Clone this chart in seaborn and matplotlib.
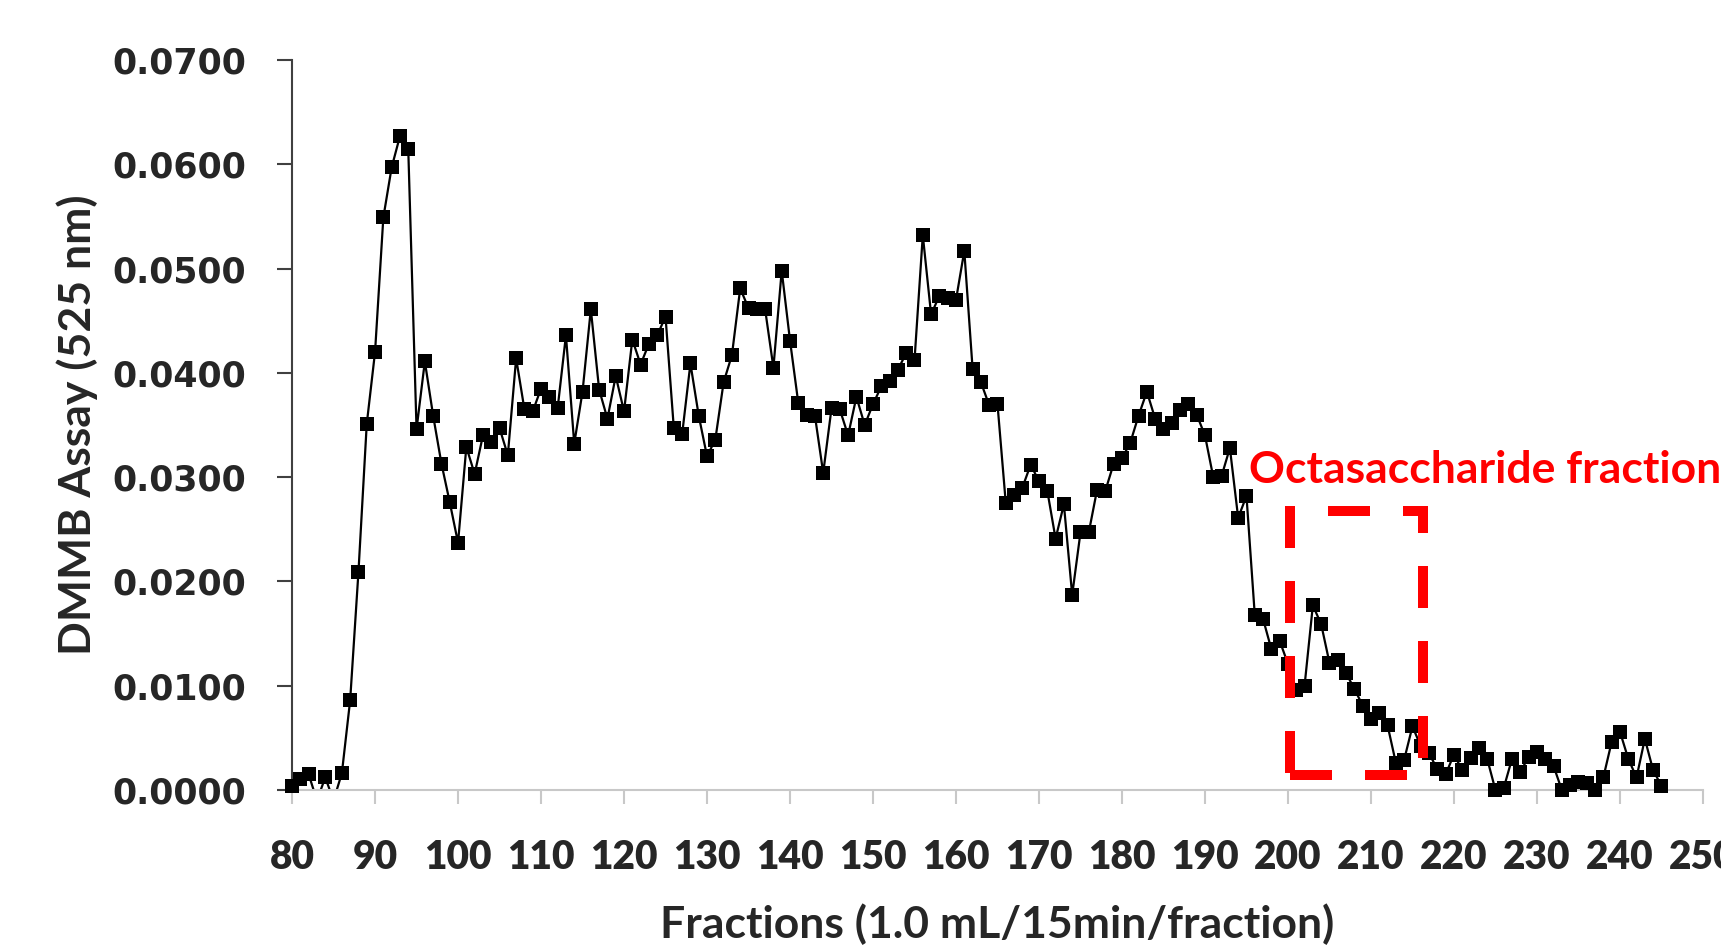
import numpy as np
import pandas as pd
import matplotlib
matplotlib.use("Agg")
import matplotlib.pyplot as plt
import seaborn as sns
from matplotlib.patches import Rectangle

# ---- data ----
fractions = list(range(80, 246))
dmmb = [
    0.0004, 0.0011, 0.0015, -0.0010, 0.0012, -0.0010, 0.0016, 0.0086, 0.0209, 0.0351,  # 80-89
    0.0420, 0.0549, 0.0597, 0.0627, 0.0615, 0.0346, 0.0411, 0.0359, 0.0313, 0.0276,    # 90-99
    0.0237, 0.0329, 0.0303, 0.0340, 0.0334, 0.0347, 0.0321, 0.0414, 0.0365, 0.0363,    # 100-109
    0.0385, 0.0377, 0.0366, 0.0436, 0.0332, 0.0382, 0.0461, 0.0384, 0.0356, 0.0397,    # 110-119
    0.0363, 0.0432, 0.0408, 0.0428, 0.0436, 0.0454, 0.0347, 0.0341, 0.0409, 0.0359,    # 120-129
    0.0320, 0.0336, 0.0391, 0.0417, 0.0481, 0.0462, 0.0461, 0.0461, 0.0405, 0.0498,    # 130-139
    0.0431, 0.0371, 0.0360, 0.0359, 0.0304, 0.0366, 0.0365, 0.0340, 0.0377, 0.0350,    # 140-149
    0.0370, 0.0387, 0.0392, 0.0403, 0.0419, 0.0412, 0.0532, 0.0456, 0.0474, 0.0472,    # 150-159
    0.0470, 0.0517, 0.0404, 0.0391, 0.0369, 0.0370, 0.0275, 0.0283, 0.0290, 0.0312,    # 160-169
    0.0296, 0.0287, 0.0241, 0.0274, 0.0187, 0.0247, 0.0247, 0.0288, 0.0287, 0.0313,    # 170-179
    0.0318, 0.0333, 0.0359, 0.0382, 0.0356, 0.0346, 0.0352, 0.0364, 0.0370, 0.0360,    # 180-189
    0.0340, 0.0300, 0.0301, 0.0328, 0.0261, 0.0282, 0.0168, 0.0164, 0.0135, 0.0143,    # 190-199
    0.0121, 0.0096, 0.0100, 0.0177, 0.0159, 0.0122, 0.0125, 0.0112, 0.0097, 0.0081,    # 200-209
    0.0068, 0.0074, 0.0062, 0.0026, 0.0029, 0.0061, 0.0042, 0.0035, 0.0020, 0.0015,    # 210-219
    0.0034, 0.0019, 0.0031, 0.0040, 0.0030, 0.0000, 0.0002, 0.0030, 0.0017, 0.0032,    # 220-229
    0.0036, 0.0030, 0.0023, 0.0000, 0.0005, 0.0008, 0.0007, 0.0000, 0.0012, 0.0046,    # 230-239
    0.0056, 0.0030, 0.0012, 0.0049, 0.0019, 0.0004,                                    # 240-245
]
x_ticks = list(range(80, 251, 10))
y_ticks = [0.00, 0.01, 0.02, 0.03, 0.04, 0.05, 0.06, 0.07]
x_label = "Fractions (1.0 mL/15min/fraction)"
y_label = "DMMB Assay (525 nm)"
annotation = "Octasaccharide fraction"
box_x = [200.3, 216.3]
box_y = [0.00144, 0.02675]

df = pd.DataFrame({"fraction": fractions, "dmmb": dmmb})

sns.set_style("white")
plt.rcParams["font.family"] = ["DejaVu Sans"]

fig = plt.figure(figsize=(17.21, 9.47), dpi=100)
ax = fig.add_axes([0.1697, 0.1658, 0.8198, 0.7708])

sns.lineplot(data=df, x="fraction", y="dmmb", ax=ax, color="black",
             linewidth=1.6, estimator=None, sort=False)
pos = df[df["dmmb"] >= 0]
sns.scatterplot(data=pos, x="fraction", y="dmmb", ax=ax, marker="s",
                color="black", s=100, edgecolor="black", linewidth=0,
                clip_on=False, zorder=3)

ax.set_xlim(80, 250)
ax.set_ylim(0, 0.07)
ax.set_xticks(x_ticks)
ax.set_yticks(y_ticks)
ax.set_yticklabels([f"{v:.4f}" for v in y_ticks],
                   fontfamily="DejaVu Sans", fontweight="bold", fontsize=25)
ax.set_xticklabels([str(v) for v in x_ticks],
                   fontfamily="Lato", fontweight="heavy", fontsize=28)

for s in ["top", "right"]:
    ax.spines[s].set_visible(False)
ax.spines["left"].set_color("#404040")
ax.spines["left"].set_linewidth(1.5)
ax.spines["bottom"].set_color("#c8c8c8")
ax.spines["bottom"].set_linewidth(1.5)
ax.tick_params(axis="y", direction="out", length=11, width=1.5,
               color="#404040", pad=22, left=True)
ax.tick_params(axis="x", direction="out", length=10, width=1.5,
               color="#c8c8c8", pad=25, bottom=True)

ax.set_xlabel(x_label, fontfamily="Lato", fontweight="bold", fontsize=32,
              labelpad=20)
ax.set_ylabel(y_label, fontfamily="Lato", fontweight="bold", fontsize=32,
              labelpad=10)

rect = Rectangle((box_x[0], box_y[0]), box_x[1] - box_x[0], box_y[1] - box_y[0],
                 fill=False, edgecolor="#ff0000", linewidth=7.2,
                 linestyle=(0, (4.2, 3.3)), zorder=4, clip_on=False)
ax.add_patch(rect)
ax.text(195.3, 0.0307, annotation, color="#ff0000", fontfamily="Lato",
        fontweight="bold", fontsize=32, ha="left", va="center")

ax.grid(False)
fig.savefig("out.png", dpi=100)
